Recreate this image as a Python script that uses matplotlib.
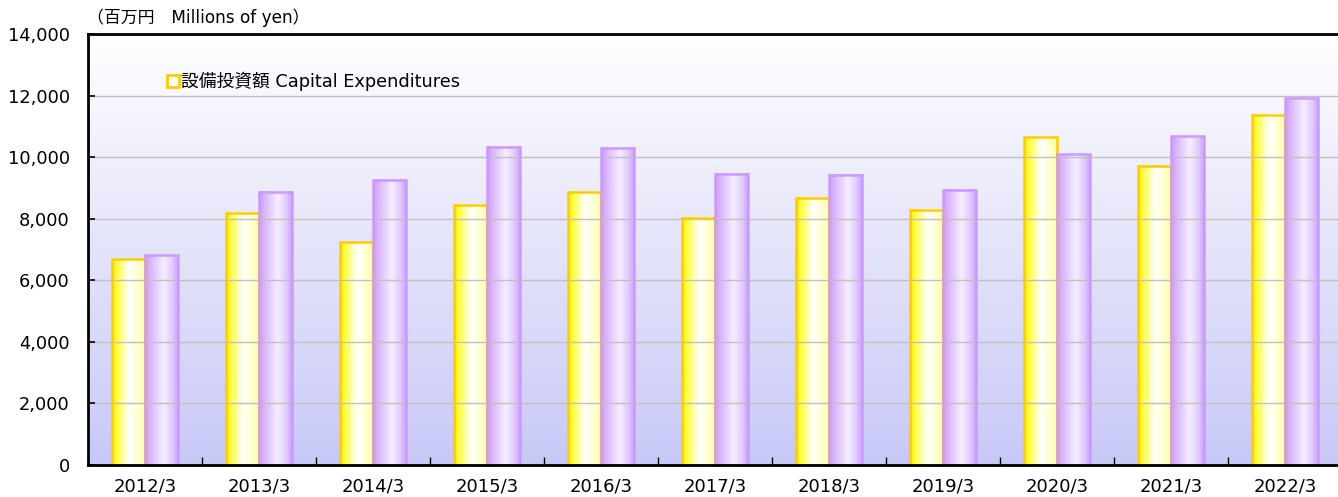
import numpy as np
import matplotlib
matplotlib.use("Agg")
import matplotlib.pyplot as plt
from matplotlib.lines import Line2D
from matplotlib.colors import LinearSegmentedColormap

plt.rcParams['font.family'] = ['DejaVu Sans', 'Noto Sans CJK JP']

categories = ["2012/3", "2013/3", "2014/3", "2015/3", "2016/3", "2017/3",
              "2018/3", "2019/3", "2020/3", "2021/3", "2022/3"]
capex = [6680, 8200, 7230, 8460, 8870, 8030, 8680, 8290, 10650, 9710, 11370]
other = [6810, 8870, 9260, 10330, 10300, 9460, 9420, 8940, 10100, 10680, 11920]
yticks = [0, 2000, 4000, 6000, 8000, 10000, 12000, 14000]
legend_label = "設備投資額 Capital Expenditures"
unit_label = "（百万円　Millions of yen）"

W, H = 1338, 497
fig = plt.figure(figsize=(W / 100, H / 100), dpi=100)
ax = fig.add_axes([88 / W, (H - 465) / H, 1254 / W, (465 - 34) / H])
ax.set_xlim(-0.5, len(categories) - 0.5)
ax.set_ylim(0, 14000)

# background gradient
bg = LinearSegmentedColormap.from_list("bg", ["#C8C8F8", "#E4E4FA", "#FFFFFF"])
grad = np.linspace(0, 1, 256).reshape(-1, 1)
ax.imshow(grad, cmap=bg, aspect="auto", extent=[0, 1, 0, 1], origin="lower",
          transform=ax.transAxes, zorder=0)

x = np.arange(len(categories))
bw = 0.29
b1 = ax.bar(x - bw / 2, capex, bw, facecolor="none", edgecolor="#FFCC00", linewidth=1.8, zorder=3)
b2 = ax.bar(x + bw / 2, other, bw, facecolor="none", edgecolor="#CC99FF", linewidth=1.8, zorder=3)

ycmap = LinearSegmentedColormap.from_list("y", [(0, "#FFE600"), (0.15, "#FFFF40"), (0.5, "#FFFFFF"),
                                                 (0.85, "#FFFFC0"), (1, "#FFFF80")])
pcmap = LinearSegmentedColormap.from_list("p", [(0, "#CC99FF"), (0.2, "#DDBBFF"), (0.55, "#F5EEFF"),
                                                 (0.8, "#E2CCFF"), (1, "#CC99FF")])
hgrad = np.linspace(0, 1, 256).reshape(1, -1)
for bars, cm in ((b1, ycmap), (b2, pcmap)):
    for r in bars:
        ax.imshow(hgrad, cmap=cm, aspect="auto",
                  extent=[r.get_x(), r.get_x() + r.get_width(), 0, r.get_height()],
                  zorder=2)

ax.set_xlim(-0.5, len(categories) - 0.5)
ax.set_ylim(0, 14000)

ax.set_yticks(yticks)
ax.set_yticklabels([f"{v:,}" for v in yticks], fontsize=12.8)
ax.yaxis.grid(True, color="#C0C0C0", linewidth=1)
ax.set_axisbelow(False)
for gl in ax.get_ygridlines():
    gl.set_zorder(1)
ax.tick_params(axis="y", direction="in", length=5, width=1.2, pad=13, colors="black")
ax.set_xticks(np.arange(len(categories) + 1) - 0.5)
ax.set_xticklabels([])
ax.set_xticks(x, minor=True)
ax.set_xticklabels(categories, minor=True, fontsize=13)
ax.tick_params(axis="x", which="major", direction="in", length=6, width=1)
ax.tick_params(axis="x", which="minor", length=0, pad=9)

for s in ("left", "bottom", "top"):
    ax.spines[s].set_linewidth(2)
    ax.spines[s].set_zorder(5)
ax.spines["right"].set_visible(False)

handle = Line2D([], [], marker="s", linestyle="none", markersize=8,
                markerfacecolor="white", markeredgecolor="#FFCC00", markeredgewidth=2)
ax.legend([handle], [legend_label], loc="center left", bbox_to_anchor=(0.049, 0.89),
          frameon=False, fontsize=12.8, handletextpad=0.05, handlelength=0.8)

fig.text(87 / W, 1 - 18 / H, unit_label, fontsize=12.2, va="center", ha="left")

fig.savefig("out.png", dpi=100)
